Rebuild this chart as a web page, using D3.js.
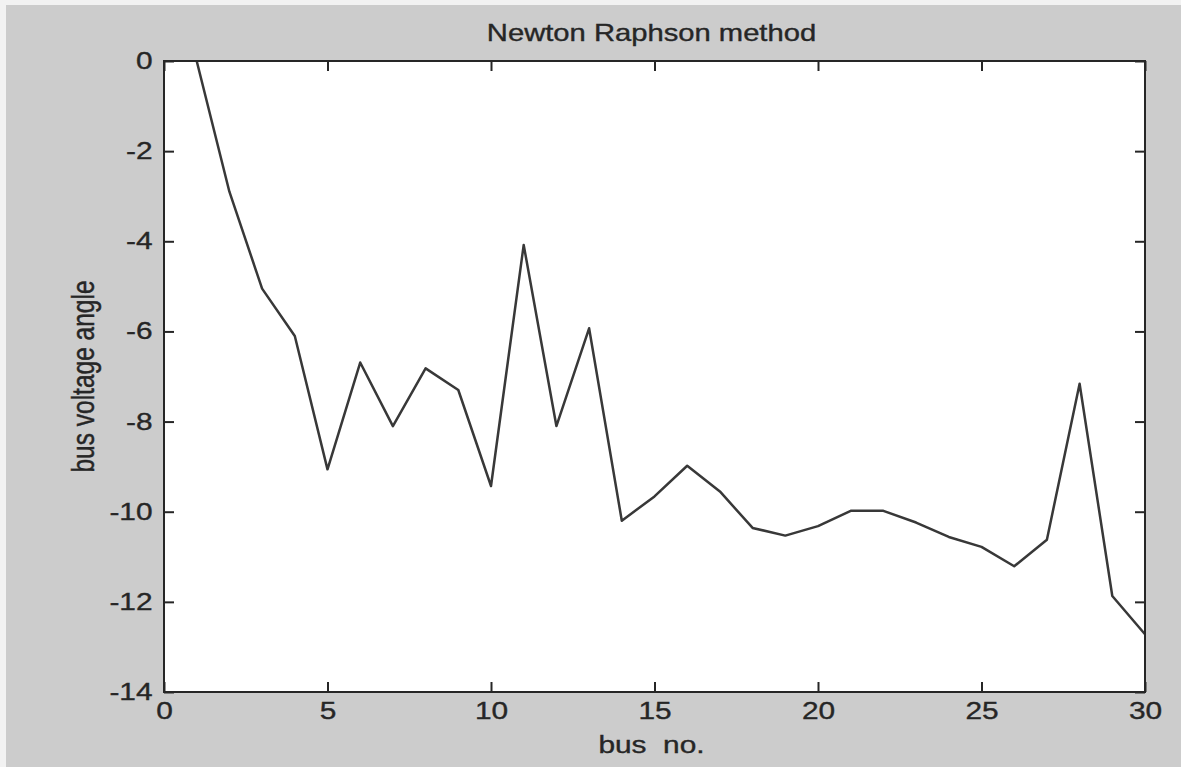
<!DOCTYPE html>
<html>
<head>
<meta charset="utf-8">
<script src="https://cdn.jsdelivr.net/npm/d3@7"></script>
<style>
  body { margin: 0; background: #cccccc; }
  svg { display: block; }
  text { font-family: "Liberation Sans", Arial, sans-serif; fill: #262626; stroke: #262626; stroke-width: 0.35px; }
</style>
</head>
<body>
<div id="grafico"></div>
<script>
// bus number and voltage angle
var buses = [1,2,3,4,5,6,7,8,9,10,11,12,13,14,15,16,17,18,19,20,21,22,23,24,25,26,27,28,29,30];
var angles = [0, -2.9, -5.05, -6.1, -9.06, -6.69, -8.1, -6.82, -7.3, -9.43,
              -4.08, -8.1, -5.93, -10.2, -9.66, -8.98, -9.55, -10.36, -10.53, -10.32,
              -9.98, -9.98, -10.24, -10.56, -10.78, -11.21, -10.62, -7.16, -11.87, -12.72];
var xTicks = [0, 5, 10, 15, 20, 25, 30];
var yTicks = [0, -2, -4, -6, -8, -10, -12, -14];

var W = 1181, H = 767;
var margin = {top: 61, right: 36, bottom: 75, left: 164};
var sx = 1.27; // the picture is stretched sideways

var svg = d3.select("#grafico")
  .append("svg")
  .attr("width", W)
  .attr("height", H);

// light frame at top/left edge
svg.append("rect").attr("x", 0).attr("y", 0).attr("width", W).attr("height", H).attr("fill", "#f2f2f2");
svg.append("rect").attr("x", 6).attr("y", 5).attr("width", W - 6).attr("height", H - 5).attr("fill", "#cccccc");

var x = d3.scaleLinear().domain([0, 30]).range([margin.left, W - margin.right]);
var y = d3.scaleLinear().domain([0, -14]).range([margin.top, H - margin.bottom]);

// plot area
svg.append("rect")
  .attr("x", x(0)).attr("y", y(0))
  .attr("width", x(30) - x(0)).attr("height", y(-14) - y(0))
  .attr("fill", "white");

function plain(d) { return String(d); } // hyphen minus, like the original

function styleAxis(g) {
  g.select(".domain").remove();
  g.selectAll("line").attr("stroke", "#262626").attr("stroke-width", 2);
  g.selectAll("text").attr("font-size", 23.5).style("fill", "#262626");
}

// bottom axis
svg.append("g")
  .attr("transform", "translate(0," + y(-14) + ")")
  .call(d3.axisBottom(x).tickValues(xTicks).tickSize(-10).tickPadding(10).tickFormat(plain))
  .call(styleAxis)
  .selectAll("text").attr("transform", "scale(" + sx + ",1)");

// top ticks
svg.append("g")
  .attr("transform", "translate(0," + y(0) + ")")
  .call(d3.axisTop(x).tickValues(xTicks).tickSize(-10).tickFormat(""))
  .call(styleAxis);

// left axis
svg.append("g")
  .attr("transform", "translate(" + x(0) + ",0)")
  .call(d3.axisLeft(y).tickValues(yTicks).tickSize(-10).tickPadding(9).tickFormat(plain))
  .call(styleAxis)
  .selectAll("text").attr("transform", "scale(" + sx + ",1)");

// right ticks
svg.append("g")
  .attr("transform", "translate(" + x(30) + ",0)")
  .call(d3.axisRight(y).tickValues(yTicks).tickSize(-10).tickFormat(""))
  .call(styleAxis);

// the line
var data = buses.map(function(b, i) { return {bus: b, angle: angles[i]}; });
svg.append("path")
  .datum(data)
  .attr("fill", "none")
  .attr("stroke", "#383838")
  .attr("stroke-width", 2.5)
  .attr("stroke-linejoin", "round")
  .attr("d", d3.line()
    .x(function(d) { return x(d.bus); })
    .y(function(d) { return y(d.angle); }));

// box
svg.append("rect")
  .attr("x", x(0)).attr("y", y(0))
  .attr("width", x(30) - x(0)).attr("height", y(-14) - y(0))
  .attr("fill", "none")
  .attr("stroke", "#262626")
  .attr("stroke-width", 2);

var cx = (x(0) + x(30)) / 2;

// title
svg.append("text")
  .attr("transform", "translate(" + (cx - 3) + ",41) scale(" + sx + ",1)")
  .attr("text-anchor", "middle")
  .attr("font-size", 23)
  .text("Newton Raphson method");

// x label
svg.append("text")
  .attr("transform", "translate(" + (cx - 3) + ",753) scale(" + sx + ",1)")
  .attr("text-anchor", "middle")
  .attr("font-size", 23.5)
  .attr("xml:space", "preserve")
  .style("white-space", "pre")
  .text("bus  no.");

// y label
svg.append("text")
  .attr("transform", "translate(94," + ((y(0) + y(-14)) / 2) + ") scale(" + sx + ",1) rotate(-90)")
  .attr("text-anchor", "middle")
  .attr("font-size", 24.5)
  .text("bus voltage angle");
</script>
</body>
</html>
